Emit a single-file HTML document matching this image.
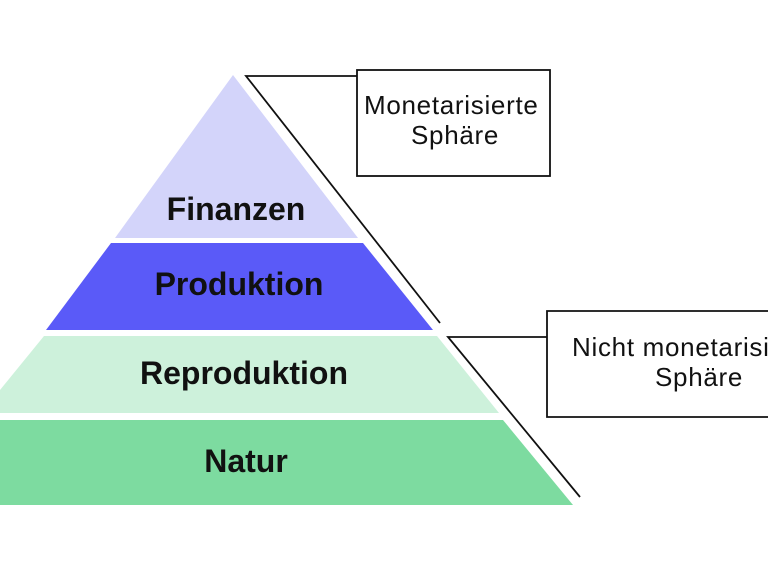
<!DOCTYPE html>
<html><head><meta charset="utf-8"><style>
html,body{margin:0;padding:0;background:#fff;}
body{width:768px;height:576px;overflow:hidden;position:relative;font-family:"Liberation Sans",sans-serif;}
.t{position:absolute;font-size:26px;letter-spacing:0.7px;color:#111;white-space:nowrap;line-height:30px;}
.b{position:absolute;font-size:32px;font-weight:bold;color:#111;white-space:nowrap;transform:translateX(-50%);line-height:36px;}
#clip{position:absolute;left:547px;top:311px;width:221px;height:106px;overflow:hidden;}
</style></head><body>
<svg width="768" height="576" style="position:absolute;left:0;top:0">
<polygon points="233,75 358,238 115,238" fill="#d3d4fa"/>
<polygon points="111,243 363,243 433,330 46,330" fill="#5a5af8"/>
<polygon points="44,336 437,336 499,413 0,413 0,390" fill="#cdf1db"/>
<polygon points="0,420 503,420 573,505 0,505" fill="#7ddba0"/>
<g stroke="#111" stroke-width="1.8" fill="none">
<polyline points="440,323 246,76 357,76"/>
<rect x="357" y="70" width="193" height="106"/>
<polyline points="580,497 448,337 547,337"/>
<polyline points="768,311 547,311 547,417 768,417"/>
</g>
</svg>
<div class="t" style="left:364px;top:90px;">Monetarisierte</div>
<div class="t" style="left:411px;top:120px;">Sphäre</div>
<div id="clip">
<div class="t" style="left:25px;top:21px;">Nicht monetarisierte</div>
<div class="t" style="left:108px;top:51px;">Sphäre</div>
</div>
<div class="b" style="left:236px;top:191px;">Finanzen</div>
<div class="b" style="left:239px;top:266px;">Produktion</div>
<div class="b" style="left:244px;top:355px;">Reproduktion</div>
<div class="b" style="left:246px;top:443px;">Natur</div>
</body></html>
